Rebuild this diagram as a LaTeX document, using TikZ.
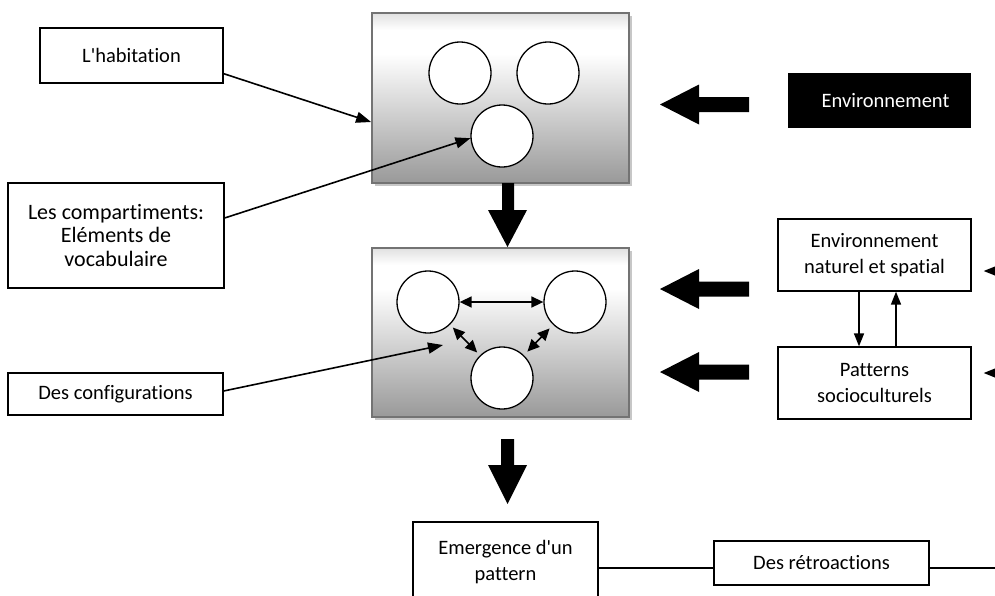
\documentclass[tikz,border=0pt]{standalone}
\usepackage{fontspec}
\setmainfont{Carlito}[Ligatures={TeXOff,CommonOff}]
\usetikzlibrary{arrows.meta,shadows}
\pgfdeclareverticalshading{grayboxshade}{100bp}{color(0bp)=(black!40); color(25bp)=(black!40); color(63bp)=(white); color(70bp)=(white); color(75bp)=(black!12); color(100bp)=(black!12)}
\begin{document}
\begin{tikzpicture}[x=1pt,y=-1pt,
  font=\fontsize{20.5}{26}\selectfont,
  txtbox/.style={draw, line width=1.3pt, fill=white, align=center, inner sep=0pt},
  graybox/.style={draw=black!55, line width=1.8pt, shading=grayboxshade,
     drop shadow={shadow xshift=3pt,shadow yshift=-3pt,fill=black!22,opacity=1}},
  circ/.style={circle, draw, line width=1.3pt, fill=white, minimum size=62pt, inner sep=0pt},
  conn/.style={line width=1.6pt, -{Triangle[length=15pt,width=11pt]}},
  sconn/.style={line width=1.6pt, -{Triangle[length=13pt,width=10pt]}},
  dconn/.style={line width=1.6pt, {Triangle[length=12pt,width=11pt]}-{Triangle[length=12pt,width=11pt]}},
  plain/.style={line width=1.3pt},
  blk/.style={fill=black}]

\useasboundingbox (0,0) rectangle (995,595);
\clip (0,0) rectangle (995,595);

% left text boxes
\node[txtbox, minimum width=183pt, minimum height=55pt] (hab) at (131.5,55.5) {L'habitation};
\node[txtbox, minimum width=216pt, minimum height=105pt, font=\fontsize{22}{23.5}\selectfont] (comp) at (116,235.5) {Les compartiments:\\Eléments de\\vocabulaire};
\node[txtbox, minimum width=215pt, minimum height=42pt] (conf) at (115.5,394) {Des configurations};

% gray boxes
\node[graybox, minimum width=257pt, minimum height=170pt] (top) at (500.5,98) {};
\node[graybox, minimum width=257pt, minimum height=169pt] (mid) at (500.5,332.5) {};

% circles
\node[circ] (t1) at (460,73) {};
\node[circ] (t2) at (548,73) {};
\node[circ] (t3) at (502,136) {};
\node[circ] (m1) at (428,302) {};
\node[circ] (m2) at (575,302) {};
\node[circ] (m3) at (502,378) {};

% right side
\node[fill=black, text=white, minimum width=183pt, minimum height=55pt, inner sep=0pt] (env) at (879.5,100.5) {\hspace*{12pt}Environnement};
\node[txtbox, minimum width=193pt, minimum height=72pt] (envn) at (874.5,255) {Environnement\\naturel et spatial};
\node[txtbox, minimum width=193pt, minimum height=72pt] (pat) at (874.5,383) {Patterns\\socioculturels};

% bottom
\node[txtbox, minimum width=185pt, minimum height=80pt] (emg) at (505.5,562) {Emergence d'un\\pattern};
\node[txtbox, minimum width=215pt, minimum height=44pt] (retro) at (821.5,563) {Des rétroactions};

% connectors
\draw[conn] ([yshift=10pt]hab.south east) -- ([yshift=-24pt]top.west);
\draw[conn] ([yshift=17.5pt]comp.east) -- (t3.184);
\coordinate (confend) at (443,345);
\draw[conn] ([yshift=3pt]conf.east) -- (confend);

\draw[dconn] (m1.east) -- (m2.west);
\draw[dconn, shorten <=4pt, shorten >=4pt] (m1) -- (m3);
\draw[dconn, shorten <=5pt, shorten >=5pt] (m2) -- (m3);

\draw[sconn] ([xshift=-15.5pt]envn.south) -- ([xshift=-15.5pt]pat.north);
\draw[sconn] ([xshift=21.5pt]pat.north) -- ([xshift=21.5pt]envn.south);

\coordinate (fb1) at (1015,271);
\coordinate (fb2) at (1015,373);
\draw[sconn] (fb1) -- ([shift={(12pt,-16pt)}]envn.east);
\draw[sconn] (fb2) -- ([shift={(12pt,10pt)}]pat.east);

\coordinate (rl) at ([yshift=-5pt]retro.west);
\draw[plain] (rl) -- (rl -| emg.east);
\coordinate (fbr) at (1000,568);
\draw[plain] ([yshift=-5pt]retro.east) -- (fbr);

% block arrows
\fill[blk] (502,183) -- (514,183) -- (514,210) -- (527,210) -- (507.5,247) -- (488,210) -- (502,210) -- cycle;
\fill[blk] (501,439) -- (514,439) -- (514,465) -- (527,465) -- (507.5,504) -- (488,465) -- (501,465) -- cycle;
\foreach \c in {104.5,289,372}{
  \fill[blk] (660,\c) -- (699,\c-20) -- (699,\c-7.5) -- (749,\c-7.5) -- (749,\c+7.5) -- (699,\c+7.5) -- (699,\c+20) -- cycle;
}
\end{tikzpicture}
\end{document}
